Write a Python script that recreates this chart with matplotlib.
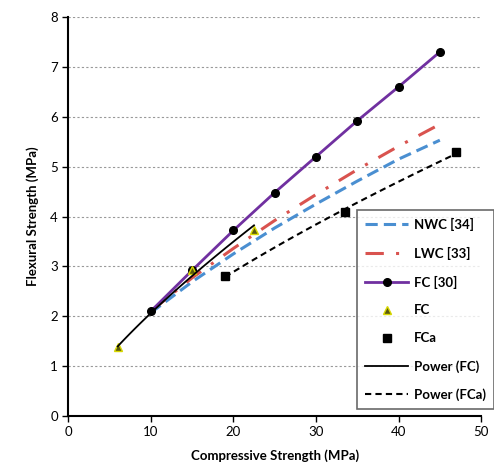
import matplotlib
matplotlib.use("Agg")
import matplotlib.pyplot as plt
import numpy as np

plt.rcParams['font.family'] = ['Lato', 'DejaVu Sans']

# reference curves
fc30_x = [10, 15, 20, 25, 30, 35, 40, 45]
fc30_y = [2.1, 2.92, 3.72, 4.48, 5.2, 5.92, 6.6, 7.3]
nwc_x = [10, 15, 20, 25, 30, 35, 40, 45]
nwc_y = [2.07, 2.69, 3.25, 3.77, 4.25, 4.71, 5.15, 5.53]
lwc_x = [10, 15, 20, 25, 30, 35, 40, 45]
lwc_y = [2.1, 2.77, 3.36, 3.92, 4.44, 4.94, 5.41, 5.85]

# test results
fc_x = [6, 15, 22.5]
fc_y = [1.38, 2.92, 3.72]
fca_x = [19, 33.5, 47]
fca_y = [2.8, 4.1, 5.3]


def power_fit(x, y):
    b, lna = np.polyfit(np.log(x), np.log(y), 1)
    xs = np.linspace(min(x), max(x), 100)
    return xs, np.exp(lna) * xs ** b


fig = plt.figure(figsize=(4.94, 4.73), dpi=100)
ax = fig.add_axes([0.138, 0.1205, 0.836, 0.8435])

ax.plot(nwc_x, nwc_y, color='#4a8fd1', lw=2.2, ls=(0, (4, 2)), label='NWC [34]')
ax.plot(lwc_x, lwc_y, color='#d9534f', lw=2.2, ls=(0, (6, 4, 1, 4)), label='LWC [33]')
ax.plot(fc30_x, fc30_y, color='#7030a0', lw=2, marker='o', ms=5.5,
        mfc='black', mec='black', label='FC [30]')
ax.plot(fc_x, fc_y, ls='none', marker='^', ms=6, mfc='#5a5a10',
        mec='#d8d800', label='FC')
ax.plot(fca_x, fca_y, ls='none', marker='s', ms=6, color='black', label='FCa')
px, py = power_fit(fc_x, fc_y)
ax.plot(px, py, color='black', lw=1.3, label='Power (FC)')
px, py = power_fit(fca_x, fca_y)
ax.plot(px, py, color='black', lw=1.5, ls=(0, (3, 2)), label='Power (FCa)')

ax.set_xlim(0, 50)
ax.set_ylim(0, 8)
ax.set_xticks(range(0, 51, 10))
ax.set_yticks(range(0, 9))
ax.tick_params(labelsize=9.5, direction='out', length=4, width=1)
ax.grid(axis='y', color='#999999', ls=(0, (2, 2)), lw=0.8)
ax.set_axisbelow(True)
for s in ['top', 'right']:
    ax.spines[s].set_visible(False)
ax.spines['left'].set_linewidth(1.5)
ax.spines['bottom'].set_linewidth(1.5)

ax.set_xlabel('Compressive Strength (MPa)', fontsize=9.5, fontweight='bold', labelpad=8)
ax.set_ylabel('Flexural Strength (MPa)', fontsize=9.5, fontweight='bold', labelpad=8)

leg = ax.legend(loc='lower right', bbox_to_anchor=(0.999, 0.135),
                bbox_transform=fig.transFigure, fontsize=9.5,
                frameon=True, fancybox=False, edgecolor='#444444',
                handlelength=3.3, handletextpad=0.4, labelspacing=1.2,
                borderpad=0.6, borderaxespad=0)
for t in leg.get_texts():
    t.set_fontweight('bold')
leg.get_frame().set_linewidth(1.2)

fig.savefig('out.png', dpi=100)
